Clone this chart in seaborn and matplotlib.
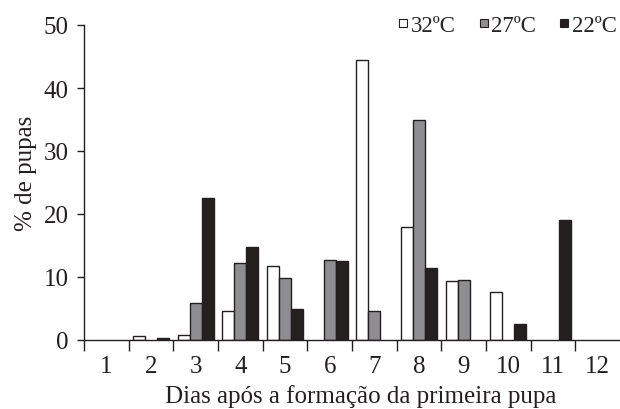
import matplotlib
matplotlib.use("Agg")
import matplotlib.pyplot as plt
import seaborn as sns
import pandas as pd
from matplotlib.lines import Line2D

days = ["1", "2", "3", "4", "5", "6", "7", "8", "9", "10", "11", "12"]
t32 = [0, 0.6, 0.85, 4.6, 11.7, 0, 44.4, 18.0, 9.4, 7.6, 0, 0]
t27 = [0, 0, 5.9, 12.2, 9.9, 12.7, 4.6, 35.0, 9.6, 0, 0, 0]
t22 = [0, 0.25, 22.5, 14.7, 5.0, 12.5, 0, 11.4, 0, 2.5, 19.0, 0]
series = ["32ºC", "27ºC", "22ºC"]

rows = []
for s, vals in zip(series, [t32, t27, t22]):
    for d, v in zip(days, vals):
        rows.append({"dia": d, "temp": s, "pct": v})
df = pd.DataFrame(rows)

sns.set_style("white")
plt.rcParams["font.family"] = ["Liberation Serif", "DejaVu Serif"]
ink = "#231f20"
colors = {"32ºC": "#ffffff", "27ºC": "#8e8e90", "22ºC": ink}
fs = 18

fig = plt.figure(figsize=(6.2, 4.1), dpi=100)
ax = fig.add_axes([84 / 620, 69 / 410, 536 / 620, 315 / 410])
sns.barplot(data=df, x="dia", y="pct", hue="temp", hue_order=series, order=days,
            palette=colors, edgecolor=ink, linewidth=1.0, width=0.8, ax=ax,
            legend=False)
for p in ax.patches:
    if p.get_height() == 0:
        p.set_visible(False)

ax.set_xlim(-0.5, 11.5)
ax.set_ylim(0, 50)
ax.set_yticks([0, 10, 20, 30, 40, 50])
for sp in ["top", "right"]:
    ax.spines[sp].set_visible(False)
for sp in ["left", "bottom"]:
    ax.spines[sp].set_color(ink)
    ax.spines[sp].set_linewidth(1.0)
ax.tick_params(axis="y", direction="out", length=5, width=1, color=ink,
               labelsize=fs, labelcolor=ink, left=True, pad=6)
ax.tick_params(axis="x", which="major", length=0, labelsize=fs, labelcolor=ink, pad=11)
ax.set_xticks([i - 0.5 for i in range(12)], minor=True)
ax.tick_params(axis="x", which="minor", direction="out", length=8, width=1, color=ink, bottom=True)
ax.set_xlabel("Dias após a formação da primeira pupa", fontsize=fs, color=ink)
ax.set_ylabel("% de pupas", fontsize=fs, color=ink)
ax.xaxis.set_label_coords(0.517, -0.14)
ax.yaxis.set_label_coords(-0.088, 0.533)

handles = [Line2D([], [], linestyle="none", marker="s", markersize=5.2,
                  markerfacecolor=colors[s], markeredgecolor=ink, markeredgewidth=0.8,
                  label=s) for s in series]
fig.legend(handles=handles, loc="upper right", bbox_to_anchor=(1.013, 0.99), ncol=3,
           frameon=False, fontsize=16.5, handlelength=0.45, handleheight=0.5,
           handletextpad=0.1, columnspacing=1.0, borderaxespad=0.1)

fig.savefig("out.png", dpi=100)
